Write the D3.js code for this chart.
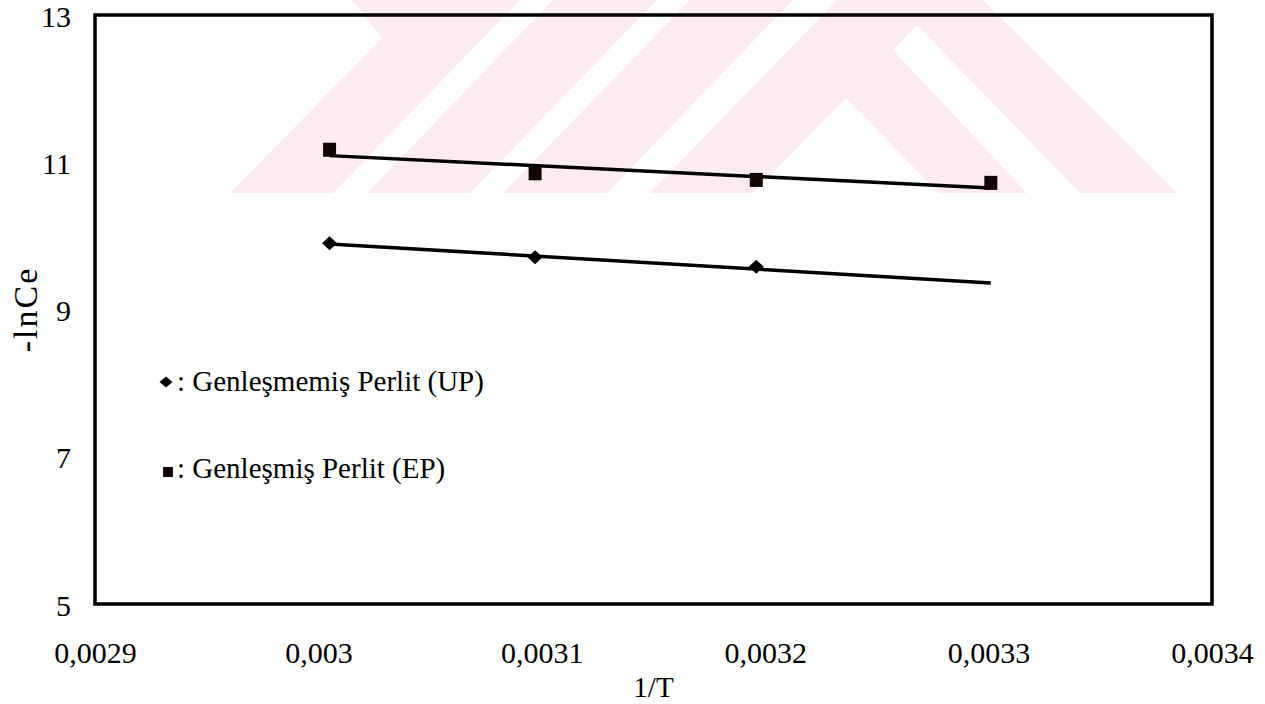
<!DOCTYPE html>
<html>
<head>
<meta charset="utf-8">
<script src="https://cdn.jsdelivr.net/npm/d3@7"></script>
<style>
  html, body { margin: 0; padding: 0; background: #fff; }
  svg { display: block; }
  text { font-family: "Liberation Serif", "Times New Roman", serif; fill: #000; }
</style>
</head>
<body>
<svg id="chart" width="1265" height="704"></svg>
<script>
// ---- data ----
const xTicks = [0.0029, 0.0030, 0.0031, 0.0032, 0.0033, 0.0034];
const xTickLabels = ["0,0029", "0,003", "0,0031", "0,0032", "0,0033", "0,0034"];
const yTicks = [5, 7, 9, 11, 13];
const yTickLabels = ["5", "7", "9", "11", "13"];

const upX = [0.003005, 0.003097, 0.003196];
const upY = [9.90, 9.71, 9.58];
const epX = [0.003005, 0.003097, 0.003196, 0.003301];
const epY = [11.17, 10.85, 10.76, 10.72];

const upTrendX = [0.003005, 0.003301];
const upTrendY = [9.89, 9.36];
const epTrendX = [0.003005, 0.003301];
const epTrendY = [11.09, 10.65];

const legendLabels = [": Genleşmemiş Perlit (UP)", ": Genleşmiş Perlit (EP)"];
const xTitle = "1/T";
const yTitle = "-lnCe";

// ---- layout ----
const W = 1265, H = 704;
const plot = { left: 95, right: 1212, top: 15, bottom: 604 };
const FONT = 29;
const TICKFONT = 30;

const svg = d3.select("#chart");

// decorative background watermark (pale chevrons of the scanned page)
const pink = "#fdecef";
const wmPink = [[352,0],[983,0],[1177,193],[230,193],[382,38]];
const wmWhite = [
  [[520,0],[553,0],[367,193],[333,193]],
  [[657,0],[690,0],[503,193],[470,193]],
  [[793,0],[837,0],[650,193],[607,193]],
  [[846,98],[939,193],[753,193]],
  [[917,25],[1080,193],[1027,193],[893,50]]
];
const wm = svg.append("g");
wm.append("path").attr("d", "M" + wmPink.join("L") + "Z").attr("fill", pink);
wmWhite.forEach(p => wm.append("path").attr("d", "M" + p.join("L") + "Z").attr("fill", "#fff"));

const x = d3.scaleLinear().domain([0.0029, 0.0034]).range([plot.left, plot.right]);
const y = d3.scaleLinear().domain([5, 13]).range([plot.bottom, plot.top]);

// axes (labels only, no tick marks)
const xAxis = d3.axisBottom(x).tickValues(xTicks).tickSize(0)
  .tickFormat((d, i) => xTickLabels[i]);
const gx = svg.append("g").attr("transform", `translate(0,${plot.bottom})`).call(xAxis);
gx.select(".domain").remove();
gx.selectAll("text").attr("font-size", TICKFONT).attr("font-family", "Liberation Serif")
  .attr("dy", null).attr("y", 59).attr("fill", "#000");

const yAxis = d3.axisLeft(y).tickValues(yTicks).tickSize(0)
  .tickFormat((d, i) => yTickLabels[i]);
const gy = svg.append("g").attr("transform", `translate(${plot.left},0)`).call(yAxis);
gy.select(".domain").remove();
gy.selectAll("text").attr("font-size", TICKFONT).attr("font-family", "Liberation Serif")
  .attr("dy", null).attr("x", -24).attr("y", 11).attr("fill", "#000");

// frame
svg.append("rect")
  .attr("x", plot.left).attr("y", plot.top)
  .attr("width", plot.right - plot.left).attr("height", plot.bottom - plot.top)
  .attr("fill", "none").attr("stroke", "#000").attr("stroke-width", 3.5);

// trend lines
const line = d3.line().x(d => x(d[0])).y(d => y(d[1]));
svg.append("path").datum(d3.zip(epTrendX, epTrendY)).attr("d", line)
  .attr("fill", "none").attr("stroke", "#000").attr("stroke-width", 3.5);
svg.append("path").datum(d3.zip(upTrendX, upTrendY)).attr("d", line)
  .attr("fill", "none").attr("stroke", "#000").attr("stroke-width", 3.5);

// markers
function diamondPath(w, h) {
  return `M0,${-h/2}L${w/2},0L0,${h/2}L${-w/2},0Z`;
}
svg.append("g").selectAll("path").data(d3.zip(upX, upY)).join("path")
  .attr("transform", d => `translate(${x(d[0])},${y(d[1])})`)
  .attr("d", diamondPath(15, 14)).attr("fill", "#000");

svg.append("g").selectAll("rect").data(d3.zip(epX, epY)).join("rect")
  .attr("x", d => x(d[0]) - 6.5).attr("y", d => y(d[1]) - 7)
  .attr("width", 13).attr("height", 14).attr("fill", "#120506");

// legend
const leg = svg.append("g");
leg.append("path").attr("transform", "translate(166,382)")
  .attr("d", diamondPath(13, 11)).attr("fill", "#000");
leg.append("text").attr("x", 177).attr("y", 391).attr("font-size", FONT).text(legendLabels[0]);
leg.append("rect").attr("x", 163).attr("y", 467).attr("width", 10).attr("height", 10).attr("fill", "#120506");
leg.append("text").attr("x", 177).attr("y", 478).attr("font-size", FONT).text(legendLabels[1]);

// axis titles
svg.append("text").attr("x", (plot.left + plot.right) / 2).attr("y", 697)
  .attr("text-anchor", "middle").attr("font-size", FONT).text(xTitle);
svg.append("text").attr("transform", `translate(37,${(plot.top + plot.bottom) / 2}) rotate(-90)`)
  .attr("text-anchor", "middle").attr("font-size", 34).attr("letter-spacing", 2).text(yTitle);
</script>
</body>
</html>
